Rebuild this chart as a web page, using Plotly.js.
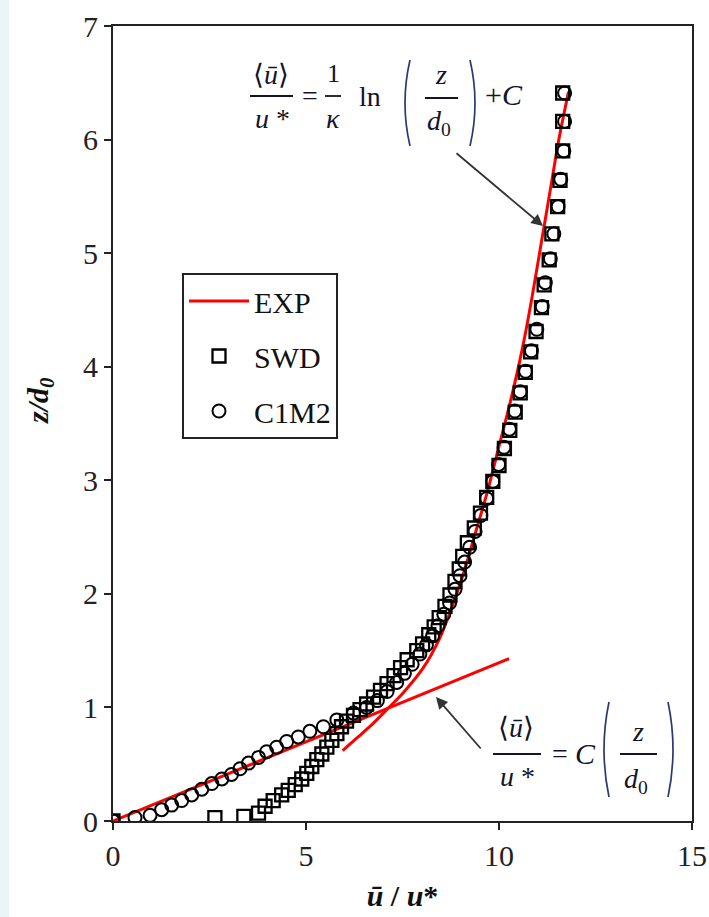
<!DOCTYPE html>
<html>
<head>
<meta charset="utf-8">
<script src="https://cdn.plot.ly/plotly-3.0.1.min.js"></script>
<style>html,body{margin:0;padding:0;background:#fff;}#chart{width:709px;height:917px;}</style>
</head>
<body>
<div id="chart"></div>
<script>
// ---- data ----
const expLinX = [0, 10.26];
const expLinY = [0, 1.43];
const expLogX = [5.95, 6.35, 6.74, 7.09, 7.52, 8.04, 8.45, 8.8, 9.1, 9.4, 9.7, 10.0, 10.3, 10.6, 10.85, 11.1, 11.35, 11.55, 11.8];
const expLogY = [0.62, 0.74, 0.86, 0.98, 1.13, 1.35, 1.6, 1.9, 2.2, 2.55, 2.9, 3.3, 3.7, 4.15, 4.6, 5.1, 5.6, 6.0, 6.42];

const swdX = [0, 2.64, 3.39, 3.77, 3.94, 4.15, 4.37, 4.54, 4.72, 4.89, 5.02, 5.15, 5.28, 5.41, 5.54, 5.67, 5.80, 5.92, 6.05, 6.23, 6.40, 6.57, 6.75, 6.93, 7.10, 7.28, 7.45, 7.62, 7.87, 8.02, 8.18, 8.32, 8.45, 8.60, 8.73, 8.86, 8.97, 9.06, 9.18, 9.36, 9.52, 9.68, 9.84, 10.0, 10.14, 10.28, 10.42, 10.55, 10.68, 10.82, 10.96, 11.10, 11.17, 11.30, 11.37, 11.52, 11.58, 11.65, 11.65, 11.65];
const swdY = [0, 0.03, 0.04, 0.07, 0.13, 0.18, 0.23, 0.27, 0.32, 0.37, 0.42, 0.48, 0.54, 0.59, 0.65, 0.71, 0.77, 0.83, 0.88, 0.93, 0.98, 1.03, 1.09, 1.15, 1.21, 1.28, 1.35, 1.42, 1.50, 1.56, 1.64, 1.71, 1.79, 1.89, 1.99, 2.11, 2.22, 2.33, 2.45, 2.58, 2.71, 2.85, 2.99, 3.13, 3.28, 3.44, 3.60, 3.77, 3.95, 4.13, 4.31, 4.52, 4.72, 4.94, 5.17, 5.41, 5.64, 5.90, 6.16, 6.41];

const c1m2X = [0, 0.57, 0.96, 1.26, 1.52, 1.78, 2.04, 2.30, 2.56, 2.82, 3.07, 3.29, 3.51, 3.77, 3.98, 4.24, 4.50, 4.80, 5.10, 5.45, 5.80, 6.23, 6.57, 6.85, 7.10, 7.35, 7.55, 7.75, 7.95, 8.12, 8.28, 8.42, 8.57, 8.72, 8.86, 8.99, 9.11, 9.24, 9.38, 9.53, 9.68, 9.84, 9.99, 10.13, 10.27, 10.41, 10.55, 10.69, 10.84, 10.98, 11.12, 11.20, 11.33, 11.42, 11.53, 11.60, 11.68, 11.70, 11.70];
const c1m2Y = [0, 0.03, 0.05, 0.10, 0.14, 0.18, 0.23, 0.28, 0.33, 0.37, 0.41, 0.46, 0.51, 0.56, 0.61, 0.65, 0.70, 0.74, 0.79, 0.83, 0.89, 0.95, 1.00, 1.06, 1.14, 1.22, 1.30, 1.38, 1.47, 1.55, 1.63, 1.72, 1.82, 1.92, 2.04, 2.16, 2.28, 2.41, 2.55, 2.69, 2.84, 2.99, 3.14, 3.29, 3.45, 3.61, 3.78, 3.96, 4.14, 4.33, 4.53, 4.74, 4.95, 5.17, 5.41, 5.65, 5.90, 6.16, 6.41];

const xTicks = [0, 5, 10, 15];
const yTicks = [0, 1, 2, 3, 4, 5, 6, 7];
const seriesNames = ['EXP', 'SWD', 'C1M2'];
const xTitle = '<b><i>ū</i></b><b> / <i>u</i>*</b>';
const yTitle = '<b><i>z/d<sub>0</sub></i></b>';

// ---- layout helpers (pixel -> paper) ----
const L = 113, R = 692, T = 26, B = 821;
const px = v => (v - L) / (R - L);
const py = v => (B - v) / (B - T);
const FONT = 'Liberation Serif, Times New Roman, serif';
const INK = '#141428';

const expX = expLinX.concat([null], expLogX);
const expY = expLinY.concat([null], expLogY);

const traces = [
  {x: expX, y: expY, mode: 'lines', name: seriesNames[0], legendgroup: 'a', legendrank: 1,
   line: {color: '#ff0000', width: 3, shape: 'spline', smoothing: 0.8}, connectgaps: false},
  {x: c1m2X, y: c1m2Y, mode: 'markers', name: seriesNames[2], legendgroup: 'c', legendrank: 3,
   marker: {symbol: 'circle-open', size: 13, color: '#000', line: {width: 2, color: '#000'}}},
  {x: swdX, y: swdY, mode: 'markers', name: seriesNames[1], legendgroup: 'b', legendrank: 2,
   marker: {symbol: 'square-open', size: 13, color: '#000', line: {width: 2.3, color: '#000'}}}
];

function txt(x, y, s, size, extra) {
  return Object.assign({xref: 'paper', yref: 'paper', x: px(x), y: py(y), text: s, showarrow: false,
    xanchor: 'center', yanchor: 'middle', font: {family: FONT, size: size || 26, color: INK}}, extra || {});
}
function bar(x0, x1, y) {
  return {type: 'line', xref: 'paper', yref: 'paper', x0: px(x0), x1: px(x1), y0: py(y), y1: py(y),
          line: {color: INK, width: 1.8}};
}
function paren(x, y0, y1, dir) {
  // dir -1 = '(' , +1 = ')'
  const xm = x + 10 * dir;
  const p = `M ${px(x)} ${py(y0)} Q ${px(xm)} ${py((y0 + y1) / 2)} ${px(x)} ${py(y1)}`;
  return {type: 'path', xref: 'paper', yref: 'paper', path: p, line: {color: '#2a3a70', width: 1.7}};
}

const annotations = [
  // y axis title (sits a little above the plot centre in the reference)
  txt(40, 401, yTitle, 30, {textangle: -90, font: {family: FONT, size: 30, color: '#111'}}),
  // top equation
  txt(271, 75, '⟨<i>ū</i>⟩', 28),
  txt(272, 119, '<i>u</i> *', 28),
  txt(310, 96, '=', 28),
  txt(333, 73, '1', 26),
  txt(333, 119, '<i>κ</i>', 28),
  txt(370, 97, 'ln', 28),
  txt(441, 75, '<i>z</i>', 28),
  txt(439, 123, '<i>d</i><sub>0</sub>', 28),
  txt(504, 95, '+<i>C</i>', 30),
  // bottom equation
  txt(516, 727, '⟨<i>ū</i>⟩', 28),
  txt(517, 776, '<i>u</i> *', 28),
  txt(560, 753, '=', 28),
  txt(585, 753, '<i>C</i>', 30),
  txt(638, 731, '<i>z</i>', 28),
  txt(636, 780, '<i>d</i><sub>0</sub>', 28),
  // arrows
  {xref: 'paper', yref: 'paper', x: px(543), y: py(226), ax: 455 - 543, ay: 152 - 226, text: '',
   showarrow: true, arrowhead: 2, arrowsize: 1.3, arrowwidth: 1.8, arrowcolor: '#333'},
  {xref: 'paper', yref: 'paper', x: px(436), y: py(697), ax: 482 - 436, ay: 750 - 697, text: '',
   showarrow: true, arrowhead: 2, arrowsize: 1.3, arrowwidth: 1.8, arrowcolor: '#333'}
];

const shapes = [
  {type: 'rect', xref: 'paper', yref: 'paper', x0: px(0), x1: px(9), y0: py(0), y1: py(917),
   fillcolor: '#e9f5f6', line: {width: 0}, layer: 'below'},
  bar(250, 293, 96), bar(325, 341, 96), bar(425, 458, 98),
  paren(410, 60, 146, -1), paren(470, 60, 146, 1),
  bar(493, 541, 754), bar(620, 657, 754),
  paren(609, 702, 797, -1), paren(668, 702, 797, 1)
];

const layout = {
  width: 709, height: 917,
  margin: {l: L, r: 709 - R, t: T, b: 917 - B},
  paper_bgcolor: '#fff', plot_bgcolor: '#fff',
  font: {family: FONT, size: 30, color: '#111'},
  showlegend: true,
  legend: {x: px(182), y: py(273), xanchor: 'left', yanchor: 'top', bgcolor: '#fff',
           bordercolor: '#222', borderwidth: 2, font: {family: FONT, size: 30, color: '#111'},
           tracegroupgap: 13, itemwidth: 60, traceorder: 'grouped'},
  xaxis: {range: [0, 15], tickvals: xTicks, ticktext: xTicks.map(String), ticks: 'outside', ticklen: 7,
          tickwidth: 2, tickcolor: '#222', showline: true, linecolor: '#222', linewidth: 2, mirror: true,
          showgrid: false, zeroline: false, tickfont: {family: FONT, size: 30, color: '#222'},
          title: {text: xTitle, font: {family: FONT, size: 30, color: '#111'}, standoff: 14}},
  yaxis: {range: [0, 7], tickvals: yTicks, ticktext: yTicks.map(String), ticks: 'outside', ticklen: 7,
          tickwidth: 2, tickcolor: '#222', showline: true, linecolor: '#222', linewidth: 2, mirror: true,
          showgrid: false, zeroline: false, tickfont: {family: FONT, size: 30, color: '#222'}},
  annotations: annotations,
  shapes: shapes
};

Plotly.newPlot('chart', traces, layout, {displayModeBar: false, staticPlot: true});
</script>
</body>
</html>
